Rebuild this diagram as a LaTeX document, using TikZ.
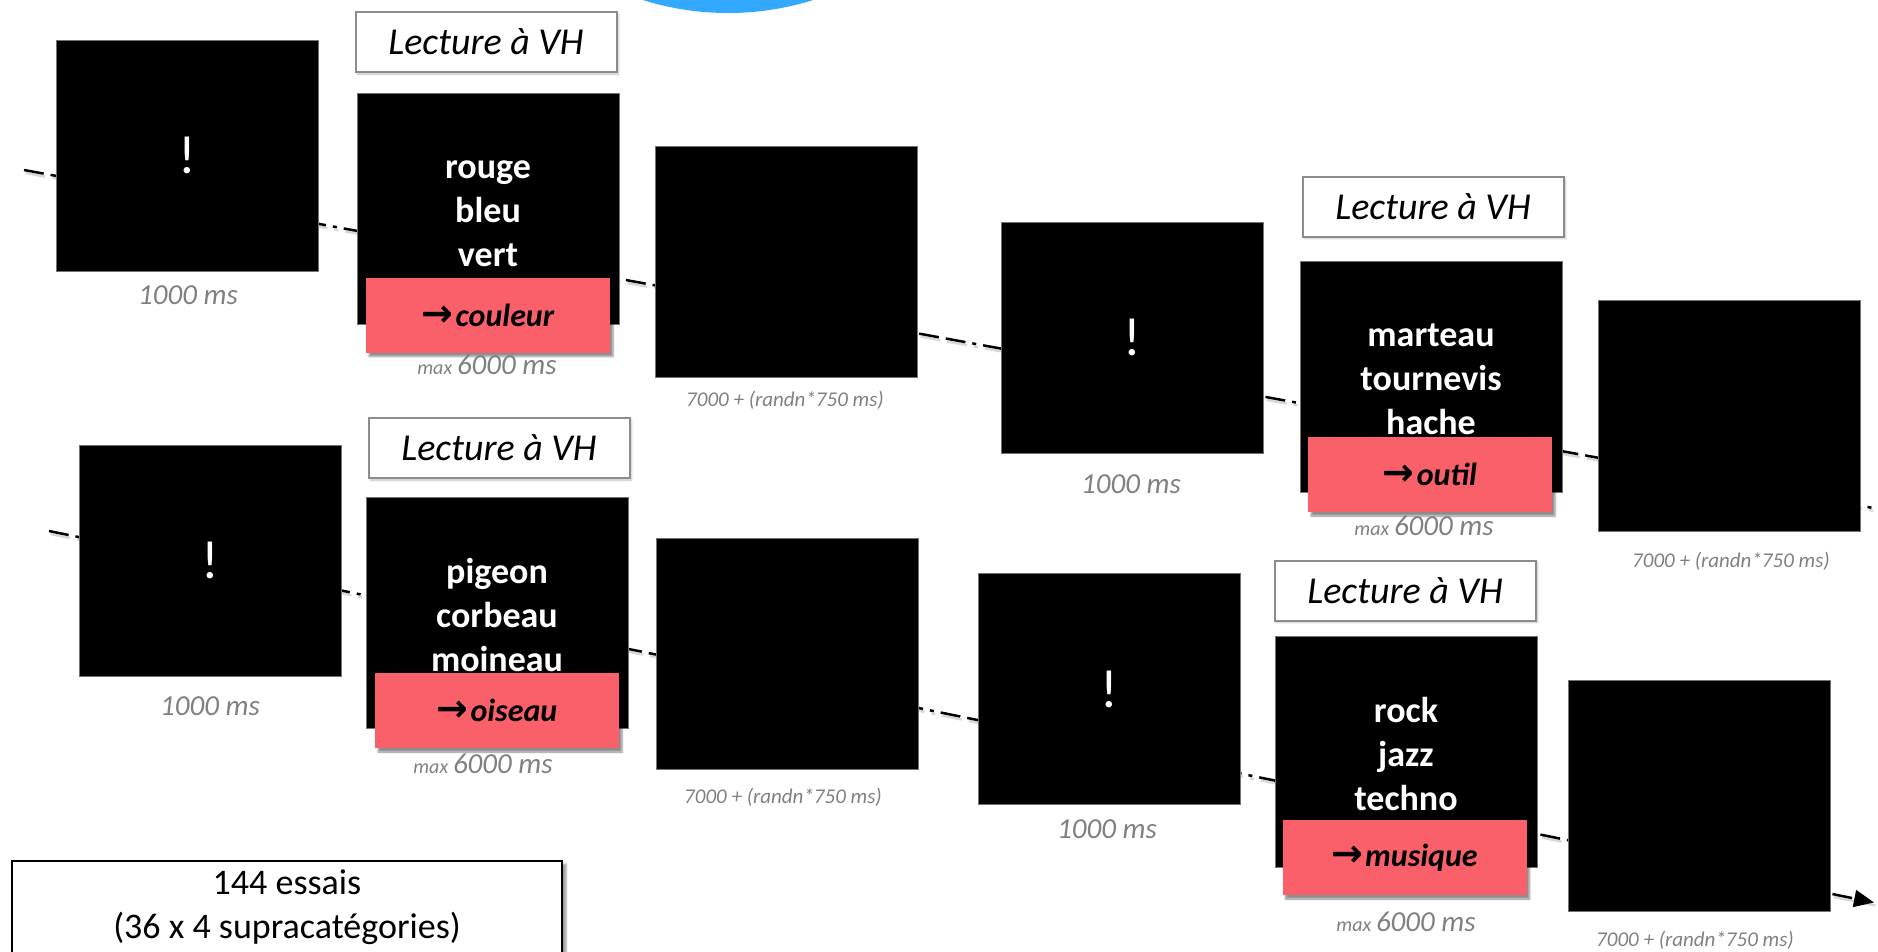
\documentclass[tikz,border=0pt]{standalone}
\usepackage{fontspec}
\setmainfont{Carlito}
\newfontfamily\arrowfont{DejaVu Sans}
\usetikzlibrary{shadows.blur,arrows.meta}

\definecolor{cue}{RGB}{51,168,255}
\definecolor{resp}{RGB}{250,96,106}
\definecolor{frame}{RGB}{140,140,140}
\definecolor{note}{RGB}{128,128,128}

% arrow in front of the category word
\newcommand\resparrow{{\fontsize{38}{38}\arrowfont\bfseries →}\hspace{2pt}}
% small "max" before a duration
\newcommand\maxlbl{{\fontsize{20}{24}\selectfont max}\,}
% three stimulus words, with struts so every list sits at the same height
\newcommand\wordlist[3]{\rule{0pt}{36pt}#1\\#2\\#3\rule[-8pt]{0pt}{8pt}}

\tikzset{
  screen/.style={fill=black, draw=black!55, line width=1pt,
    minimum width=262pt, minimum height=231pt, inner sep=0pt,
    text=white, align=center, font=\fontsize{36}{44}\selectfont\bfseries},
  alert/.style={screen, font=\fontsize{54}{60}\selectfont},
  title/.style={fill=white, draw=frame, line width=2pt,
    minimum width=261pt, minimum height=60pt, inner sep=0pt,
    font=\fontsize{38}{44}\selectfont\itshape,
    blur shadow={shadow xshift=2pt, shadow yshift=-2pt, shadow blur steps=4, shadow opacity=25}},
  answer/.style={fill=resp, minimum width=244pt, minimum height=75pt, inner sep=0pt,
    font=\fontsize{32}{38}\selectfont\bfseries\itshape,
    blur shadow={shadow xshift=3pt, shadow yshift=-4pt, shadow blur steps=6, shadow opacity=45}},
  dur/.style={text=note, inner sep=0pt, font=\fontsize{29}{34}\selectfont\itshape},
  jitter/.style={text=note, inner sep=0pt, font=\fontsize{21}{25}\selectfont\itshape},
  summary/.style={fill=white, draw=black, line width=2pt, align=center,
    minimum width=550pt, inner xsep=0pt, inner ysep=9pt,
    font=\fontsize{36}{44}\selectfont,
    blur shadow={shadow xshift=4pt, shadow yshift=-3pt, shadow blur steps=5, shadow opacity=40}},
  flow/.style={line width=2.5pt, dash pattern=on 20pt off 7pt on 20pt off 7pt on 4pt off 7pt},
  flowshade/.style={flow, draw=black!30, opacity=0.5,
    transform canvas={shift={(1.5pt,-3pt)}}},
}

\begin{document}
\begin{tikzpicture}[x=1pt, y=-1pt]
\useasboundingbox (0,0) rectangle (1878,951);

% blue disc peeking in from the top edge
\fill[cue] (728,-271) circle (284);

% time-line anchors
\coordinate (in1)  at (24,170);
\coordinate (out1) at (1895,512);
\coordinate (in2)  at (49,531);
\coordinate (out2) at (1874,902.5);

% dashed time lines (behind the screens)
\draw[flowshade] (in1) -- (out1);
\draw[flow] (in1) -- (out1);
\draw[flowshade] (in2) -- (out2);
\draw[flow, -{Triangle[length=20pt,width=17pt]}] (in2) -- (out2);

% ---- trial 1 : couleur
\node[alert]  (A1) at (187,155.5) {!};
\node[title]  (T1) at (486,42) {Lecture à VH};
\node[screen] (B1) at (488,208.5) {\wordlist{rouge}{bleu}{vert}};
\node[answer] (P1) at (488,315) {\resparrow couleur};
\node[screen] (C1) at (786,261.5) {};
\node[dur]    (dA1) at (188,295) {1000 ms};
\node[dur]    (dB1) at (487,365) {\maxlbl 6000 ms};
\node[jitter] (dC1) at (785,400) {7000 + (randn*750 ms)};

% ---- trial 2 : outil
\node[alert]  (A2) at (1132,337.5) {!};
\node[title]  (T2) at (1433,206.5) {Lecture à VH};
\node[screen] (B2) at (1431,376.5) {\wordlist{marteau}{tournevis}{hache}};
\node[answer] (P2) at (1430,474.5) {\resparrow outil};
\node[screen] (C2) at (1729,416) {};
\node[dur]    (dA2) at (1131,484) {1000 ms};
\node[dur]    (dB2) at (1424,526) {\maxlbl 6000 ms};
\node[jitter] (dC2) at (1731,561) {7000 + (randn*750 ms)};

% ---- trial 3 : oiseau
\node[alert]  (A3) at (210,560.5) {!};
\node[title]  (T3) at (499,448) {Lecture à VH};
\node[screen] (B3) at (497,613) {\wordlist{pigeon}{corbeau}{moineau}};
\node[answer] (P3) at (497,710.5) {\resparrow oiseau};
\node[screen] (C3) at (787,654) {};
\node[dur]    (dA3) at (210,706) {1000 ms};
\node[dur]    (dB3) at (483,764) {\maxlbl 6000 ms};
\node[jitter] (dC3) at (783,797) {7000 + (randn*750 ms)};

% ---- trial 4 : musique
\node[alert]  (A4) at (1109.5,689) {!};
\node[title]  (T4) at (1405,590.5) {Lecture à VH};
\node[screen] (B4) at (1406,752) {\wordlist{rock}{jazz}{techno}};
\node[answer] (P4) at (1404.5,857.5) {\resparrow musique};
\node[screen] (C4) at (1699,796) {};
\node[dur]    (dA4) at (1107,829) {1000 ms};
\node[dur]    (dB4) at (1406,922) {\maxlbl 6000 ms};
\node[jitter] (dC4) at (1695,940) {7000 + (randn*750 ms)};

% ---- number of trials
\node[summary, anchor=north] (N) at (287,860) {144 essais\\(36 x 4 supracatégories)};
\end{tikzpicture}
\end{document}
